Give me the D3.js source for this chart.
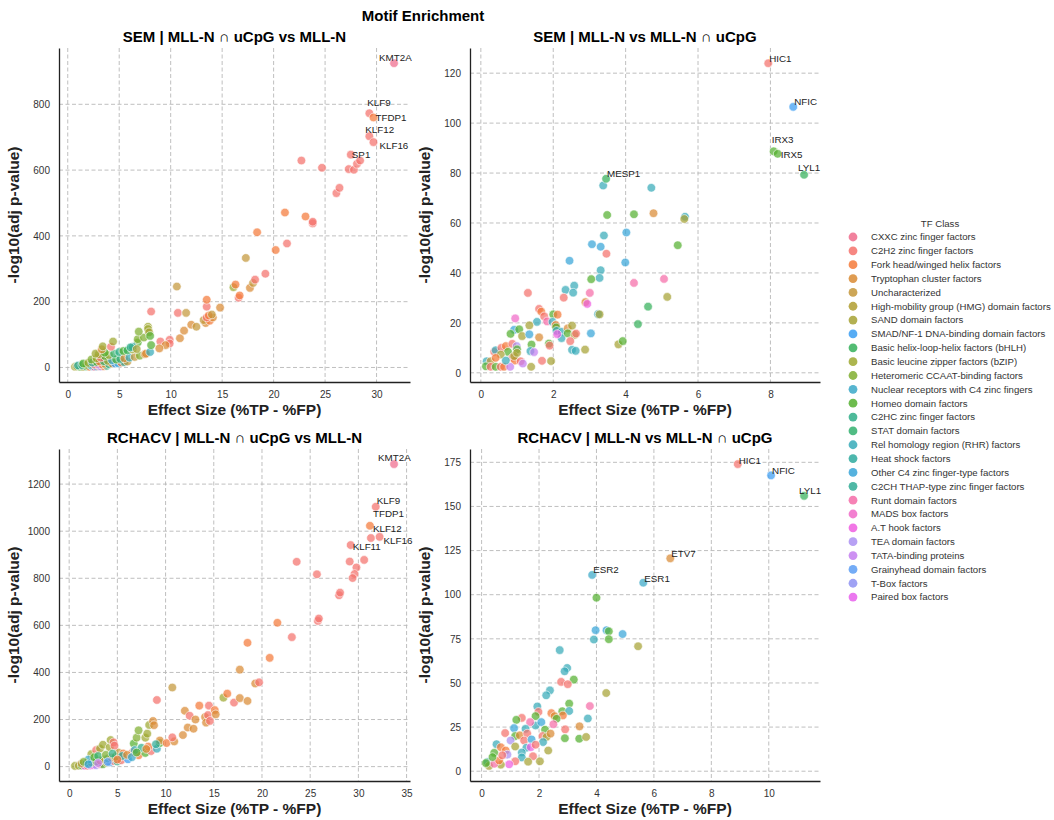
<!DOCTYPE html>
<html>
<head>
<meta charset="utf-8">
<script src="https://cdn.jsdelivr.net/npm/d3@7"></script>
<style>
  body { margin: 0; background: #fff; }
  text { font-family: "Liberation Sans", Arial, sans-serif; }
</style>
</head>
<body>
<svg id="chart" width="1054" height="820"></svg>
<script>
// TF classes, in legend order, and their colours
const tfClasses = ["CXXC zinc finger factors", "C2H2 zinc finger factors", "Fork head/winged helix factors",
  "Tryptophan cluster factors", "Uncharacterized", "High-mobility group (HMG) domain factors", "SAND domain factors",
  "SMAD/NF-1 DNA-binding domain factors", "Basic helix-loop-helix factors (bHLH)", "Basic leucine zipper factors (bZIP)",
  "Heteromeric CCAAT-binding factors", "Nuclear receptors with C4 zinc fingers", "Homeo domain factors",
  "C2HC zinc finger factors", "STAT domain factors", "Rel homology region (RHR) factors", "Heat shock factors",
  "Other C4 zinc finger-type factors", "C2CH THAP-type zinc finger factors", "Runt domain factors", "MADS box factors",
  "A.T hook factors", "TEA domain factors", "TATA-binding proteins", "Grainyhead domain factors", "T-Box factors",
  "Paired box factors"];
const classColors = ["#ef6b8c", "#f4726c", "#f47a3a", "#d98b34", "#c4973a", "#b09e30", "#a6a234", "#3a9df2",
  "#35b05a", "#9ea830", "#80ae30", "#39a8c8", "#55b030", "#2fae88", "#33b06e", "#37aab8", "#2eaa9f", "#38a5d8",
  "#30ab95", "#f56ca8", "#f06ac8", "#ee5ee0", "#aa90f2", "#c47ef0", "#5c9ef5", "#8e92f2", "#e860ec"];

// [effect size, -log10 adj p, class index]
const semUcpgPts = [
  [0.7,2,6],[0.9,3,9],[1.2,2,12],[1.5,2,6],[1.8,3,8],[2.1,2,2],[2.4,3,7],[2.6,2,0],[2.8,3,17],[3.0,4,1],[3.2,3,22],[3.5,4,2],[3.8,5,13],
  [1.0,6,16],[1.4,7,13],[1.8,8,10],[2.2,8,15],[2.6,9,1],[3.0,9,23],[3.3,10,2],[3.6,11,4],[4.0,10,13],[4.3,12,3],[4.6,12,7],[4.9,13,17],[5.2,15,2],[5.5,16,18],[5.8,18,4],
  [1.5,12,12],[2.0,14,9],[2.4,15,18],[2.8,17,12],[3.1,18,2],[3.5,19,14],[3.9,20,6],[4.3,22,11],[4.7,24,12],[5.1,26,13],[5.5,28,3],[6.0,30,15],[6.5,32,4],[7.0,36,10],[7.5,40,3],
  [2.3,24,10],[2.8,28,9],[3.2,30,1],[3.6,35,12],[4.0,38,9],[4.5,42,14],[5.0,47,13],[5.4,50,12],[5.8,52,8],[6.3,55,9],[3.0,40,6],
  [2.7,42,9],[3.6,45,12],[3.3,55,3],[3.4,64,9],[4.2,63,1],[4.4,79,9],[6.8,76,12],[6.3,63,15],[6.1,61,13],[6.7,56,6],[7.6,42,3],[8.0,47,15],[8.1,68,12],
  [6.8,86,10],[7.4,91,10],[6.9,109,10],[7.8,124,9],[7.8,117,9],[7.9,107,6],[8.0,96,12],
  [8.1,170,1],[10.6,246,4],[10.7,166,1],[11.5,166,4],[9.9,84,1],[9.9,73,1],[9.0,79,1],[9.5,68,3],[8.9,58,3],[10.9,89,3],[11.3,112,3],
  [12.0,130,3],[12.5,124,4],[13.4,135,3],[13.2,144,4],[13.8,142,2],[13.5,152,1],[14.1,152,3],[13.7,158,2],[14.0,161,4],[13.5,185,1],
  [13.5,206,2],[14.8,182,3],[16.6,212,1],[16.7,219,2],[16.1,244,9],[16.3,252,2],[17.7,242,3],[18.0,257,4],[18.2,267,1],[19.2,285,1],
  [17.3,333,4],[20.2,357,2],[21.3,377,1],[18.4,411,2],[23.8,438,1],[23.8,443,1],[23.1,459,2],[21.1,471,2],[26.1,530,1],[26.4,546,1],
  [22.7,629,1],[24.7,607,1],[27.3,603,1],[27.8,601,1],[28.1,619,1],[28.4,629,1]
];
const semUcpgLabels = [["KMT2A",31.7,925,0],["KLF9",29.3,773,1],["TFDP1",29.7,760,2],["KLF12",29.3,703,1],["KLF16",29.7,685,1],["SP1",27.5,647,1]];

const semMllPts = [
  [3.38,75,15],[4.71,74.1,15],[3.49,63.2,12],[4.23,63.5,12],[4.77,63.9,3],[5.64,62.5,15],[5.62,61.6,6],[4.02,56.2,17],[3.40,55,15],
  [5.44,51.1,12],[3.07,51.5,17],[3.31,50.5,17],[3.47,47.7,1],[2.45,44.9,17],[3.99,44.2,17],[3.31,41.1,15],[3.28,38.0,15],[3.05,37.5,12],
  [4.23,36.0,19],[5.06,37.6,19],[5.15,30.4,6],[2.34,33.2,15],[2.58,34.9,15],[2.55,32.1,15],[3.01,32.0,19],[2.29,30.1,1],[1.30,32.0,1],
  [2.89,28.3,3],[2.94,27.6,21],[4.62,26.5,8],[4.34,19.5,8],[3.24,23.5,15],[3.28,23.4,6],[1.61,25.6,1],[1.67,24.5,2],[1.75,22.6,1],
  [1.83,20.6,19],[1.55,20.4,15],[2.0,23.4,12],[2.12,23.3,2],[1.98,20.4,15],[2.06,19.1,1],[0.95,21.8,20],[1.34,19.0,6],[0.92,17.2,17],
  [1.06,17.4,12],[0.82,15.6,12],[1.14,14.7,6],[1.34,15.4,17],[1.61,14.2,3],[1.40,11.3,12],[1.88,11.7,12],[1.90,10.9,1],[2.07,19.1,3],
  [2.08,18.2,12],[2.09,16.8,15],[2.23,16.4,15],[2.23,13.9,15],[2.11,15.5,21],[2.40,17.8,3],[2.52,18.9,6],[2.40,15.8,12],[2.59,15.2,6],
  [2.63,15.7,1],[2.47,12.7,1],[2.52,9.2,15],[2.62,8.8,15],[2.88,9.3,6],[3.04,15.8,17],[3.80,11.4,6],[3.92,12.7,12],[1.37,8.7,15],
  [1.47,8.3,23],[1.69,4.8,1],[1.94,4.7,6],[1.39,2.4,6],
  [0.37,8.4,1],[0.41,9.0,15],[0.57,10.0,1],[0.69,10.7,2],[0.87,11.6,1],[0.99,10.7,22],[1.0,9.4,12],[0.75,8.4,12],[0.55,7.3,6],
  [0.87,6.0,1],[0.94,4.9,2],[1.10,4.6,1],[1.16,3.7,23],[0.16,4.6,15],[0.27,4.6,4],[0.14,2.6,12],[0.27,2.4,1],[0.41,2.4,12],
  [0.55,2.4,1],[0.64,2.4,2],[0.81,2.4,23],[0.69,4.9,15],[0.41,6.0,2],[0.92,6.7,6],[1.0,8.0,6]
];
const semMllLabels = [["HIC1",7.94,124,1],["NFIC",8.63,106.5,7],["IRX3",8.09,88.7,12],["IRX5",8.2,87.7,12],["LYL1",8.93,79.3,8],["MESP1",3.46,77.7,8]];

const rchUcpgPts = [
  [0.6,3,9],[1.0,4,6],[1.3,5,12],[1.6,4,21],[1.9,4,1],[2.2,5,26],[2.5,7,21],[2.8,6,22],[3.2,10,19],[3.5,10,12],[3.9,17,6],[4.2,18,7],
  [4.6,24,1],[5.0,22,13],[5.4,27,1],[6.1,31,7],
  [1.3,13,4],[1.8,15,13],[2.3,18,10],[2.8,22,12],[3.2,26,2],[3.6,30,9],[4.0,34,13],[4.4,38,3],[4.8,42,12],[5.1,60,4],[5.6,56,2],
  [6.6,62,1],[7.2,48,2],[7.9,58,12],[8.5,66,1],[9.1,76,15],[9.4,100,12],[9.4,111,3],[10.1,100,2],[10.9,107,3],[10.7,124,1],
  [2.3,53,9],[2.8,70,1],[3.2,77,9],[3.5,93,9],[4.2,82,9],[4.3,113,9],[4.6,103,1],[4.7,89,1],[6.7,98,12],[7.0,123,10],[7.2,154,10],
  [7.9,123,9],[8.1,140,9],[8.3,177,9],[8.7,194,3],[8.8,176,3],
  [2.0,30,11],[2.6,40,12],[3.0,45,14],[3.8,50,10],[4.5,55,13],[5.5,45,16],[6.0,50,3],[6.8,70,15],[7.5,80,13],[8.2,85,2],[9.0,95,18],
  [1.5,20,10],[2.0,10,17],[3.0,15,23],[4.0,20,24],[5.0,30,2],[6.5,40,11],[7.0,60,12],[8.0,75,3],
  [9.1,283,1],[10.7,336,4],[11.8,134,3],[12.0,237,3],[12.3,166,3],[12.5,216,1],[12.9,161,3],[13.1,200,3],[13.5,259,2],[14.1,211,3],
  [14.2,187,3],[14.4,219,1],[14.5,259,1],[14.6,194,1],[15.1,240,2],[15.2,222,3],[16.0,293,9],[16.4,310,2],[17.1,272,1],[17.7,291,3],
  [17.7,412,3],[18.5,279,3],[18.5,526,2],[19.3,353,3],[19.7,358,1],[20.8,462,2],[21.6,611,2],[23.1,550,1],[23.6,870,1],[25.7,817,1],
  [25.8,619,1],[25.9,629,1],[28.0,728,1],[28.1,739,1],[29.1,871,1],[30.6,878,1],[29.8,846,1],[29.6,818,1],[29.4,801,1]
];
const rchUcpgLabels = [["KMT2A",33.7,1285,0],["KLF9",31.8,1104,1],["TFDP1",31.2,1023,2],["KLF12",31.3,971,1],["KLF16",32.2,976,1],["KLF11",29.2,941,1]];

const rchMllPts = [
  [4.0,98.3,12],[3.97,79.9,17],[4.35,79.9,17],[4.43,79.3,12],[4.91,77.7,17],[3.91,74.6,15],[4.43,74.8,12],[5.45,70.8,6],[2.72,68.6,15],
  [2.98,58.5,15],[2.89,56.6,15],[3.21,51.9,12],[2.77,50.6,1],[3.0,49.3,1],[4.34,44.3,6],[2.38,45.8,15],[2.25,43.0,15],[3.05,38.3,12],
  [3.77,36.9,19],[1.94,36.7,15],[1.98,33.6,1],[2.81,34.0,12],[3.05,34.1,15],[2.83,31.6,2],[2.43,32.9,2],[2.54,31.2,3],[2.61,29.7,12],
  [2.50,26.6,19],[1.88,31.2,12],[1.88,25.9,15],[2.08,27.8,17],[1.69,27.8,19],[1.40,30.2,1],[1.21,29.1,12],[1.13,24.4,17],[1.53,24.0,15],
  [2.21,23.5,12],[2.91,23.7,1],[3.41,25.4,3],[3.70,29.9,15],[0.82,21.6,1],[1.17,19.9,12],[1.33,20.3,3],[1.59,21.3,1],[2.12,19.9,1],
  [2.26,19.4,6],[2.40,21.3,3],[1.48,17.4,1],[1.74,18.0,17],[2.90,18.7,12],[3.40,18.4,12],[3.64,19.4,6],[2.14,16.5,15],[1.01,17.4,22],
  [0.52,15.3,15],[1.17,14.0,6],[1.56,13.3,15],[1.71,13.6,21],[1.88,15.0,1],[2.32,11.7,6],[0.67,13.6,2],[0.84,11.7,2],[0.44,10.4,12],
  [0.90,9.4,22],[1.40,10.6,15],[1.40,7.8,15],[1.79,8.5,1],[1.62,5.4,6],[2.03,5.6,6],[1.17,5.6,1],[0.96,3.9,21],[0.67,3.7,6],
  [0.20,5.2,15],[0.26,3.0,6],[0.44,4.2,19],[0.61,6.1,2],[0.38,8.0,12],[0.72,9.0,1],[0.15,4.6,12]
];
const rchMllLabels = [["HIC1",8.92,174,1],["NFIC",10.08,167.6,7],["LYL1",11.23,156,8],["ETV7",6.57,120.6,3],["ESR2",3.85,111.2,11],["ESR1",5.63,106.8,11]];

// tick labels
const semUcpgXTicks = [0, 5, 10, 15, 20, 25, 30];
const semUcpgYTicks = [0, 200, 400, 600, 800];
const semMllXTicks = [0, 2, 4, 6, 8];
const semMllYTicks = [0, 20, 40, 60, 80, 100, 120];
const rchUcpgXTicks = [0, 5, 10, 15, 20, 25, 30, 35];
const rchUcpgYTicks = [0, 200, 400, 600, 800, 1000, 1200];
const rchMllXTicks = [0, 2, 4, 6, 8, 10];
const rchMllYTicks = [0, 25, 50, 75, 100, 125, 150, 175];

// label nudges in px (like adjustText output)
const nudges = {
  "SEM | MLL-N ∩ uCpG vs MLL-N": { KMT2A: [-15,-6], KLF9: [-2,-11], TFDP1: [2,0], KLF12: [-4,-7], KLF16: [6,3], SP1: [1,0] },
  "SEM | MLL-N vs MLL-N ∩ uCpG": { HIC1: [1,-5], NFIC: [1,-5], IRX3: [-2,-12], IRX5: [3,1], LYL1: [-6,-7], MESP1: [1,-5] },
  "RCHACV | MLL-N ∩ uCpG vs MLL-N": { KMT2A: [-16,-7], KLF9: [1,-6], TFDP1: [3,-12], KLF12: [2,-9], KLF16: [4,4], KLF11: [2,1] },
  "RCHACV | MLL-N vs MLL-N ∩ uCpG": { HIC1: [1,-4], NFIC: [1,-5], LYL1: [-5,-5], ETV7: [1,-5], ESR2: [1,-5], ESR1: [1,-4] }
};

const svg = d3.select("#chart");

svg.append("text")
  .attr("x", 423).attr("y", 21)
  .attr("text-anchor", "middle")
  .style("font-size", "15px").style("font-weight", "bold")
  .text("Motif Enrichment");

const panels = [
  { title: "SEM | MLL-N ∩ uCpG vs MLL-N", pts: semUcpgPts, labels: semUcpgLabels, xt: semUcpgXTicks, yt: semUcpgYTicks, box: [59, 410, 48, 382] },
  { title: "SEM | MLL-N vs MLL-N ∩ uCpG", pts: semMllPts, labels: semMllLabels, xt: semMllXTicks, yt: semMllYTicks, box: [470, 820, 48, 382] },
  { title: "RCHACV | MLL-N ∩ uCpG vs MLL-N", pts: rchUcpgPts, labels: rchUcpgLabels, xt: rchUcpgXTicks, yt: rchUcpgYTicks, box: [59, 410, 449, 781] },
  { title: "RCHACV | MLL-N vs MLL-N ∩ uCpG", pts: rchMllPts, labels: rchMllLabels, xt: rchMllXTicks, yt: rchMllYTicks, box: [470, 820, 449, 781] }
];

// matplotlib-like 5% margins
function padded(vals) {
  const ext = d3.extent(vals);
  const m = (ext[1] - ext[0]) * 0.05;
  return [ext[0] - m, ext[1] + m];
}

panels.forEach(p => {
  const [x0, x1, y0, y1] = p.box;
  const all = p.pts.concat(p.labels.map(l => [l[1], l[2], l[3]]));
  const x = d3.scaleLinear().domain(padded(all.map(d => d[0]))).range([x0, x1]);
  const y = d3.scaleLinear().domain(padded(all.map(d => d[1]))).range([y1, y0]);
  const g = svg.append("g");

  // grid
  g.selectAll(".gx").data(p.xt).enter().append("line")
    .attr("x1", d => x(d)).attr("x2", d => x(d))
    .attr("y1", y0).attr("y2", y1)
    .attr("stroke", "#b8b8b8").attr("stroke-width", 0.9).attr("stroke-dasharray", "4,2.5");
  g.selectAll(".gy").data(p.yt).enter().append("line")
    .attr("x1", x0).attr("x2", x1)
    .attr("y1", d => y(d)).attr("y2", d => y(d))
    .attr("stroke", "#b8b8b8").attr("stroke-width", 0.9).attr("stroke-dasharray", "4,2.5");

  // axes
  const xa = g.append("g").attr("transform", `translate(0,${y1})`)
    .call(d3.axisBottom(x).tickValues(p.xt).tickFormat(d3.format("d")).tickSize(0).tickSizeOuter(0).tickPadding(9));
  const ya = g.append("g").attr("transform", `translate(${x0},0)`)
    .call(d3.axisLeft(y).tickValues(p.yt).tickFormat(d3.format("d")).tickSize(0).tickSizeOuter(0).tickPadding(9));
  [xa, ya].forEach(a => {
    a.select(".domain").attr("stroke", "#222").attr("stroke-width", 1.3);
    a.selectAll("text").style("font-size", "10px").attr("fill", "#333")
      .style("font-family", '"Liberation Sans", Arial, sans-serif');
  });

  // points
  g.selectAll(".pt").data(all).enter().append("circle")
    .attr("cx", d => x(d[0])).attr("cy", d => y(d[1]))
    .attr("r", 4.3)
    .attr("fill", d => classColors[d[2]])
    .attr("fill-opacity", 0.72)
    .attr("stroke", "#fff").attr("stroke-width", 0.6);

  // gene labels
  const nd = nudges[p.title];
  g.selectAll(".lab").data(p.labels).enter().append("text")
    .attr("x", d => x(d[1]) + nd[d[0]][0])
    .attr("y", d => y(d[2]) + nd[d[0]][1])
    .attr("dy", "0.35em")
    .style("font-size", "9.8px").attr("fill", "#222")
    .text(d => d[0]);

  // titles
  const cx = (x0 + x1) / 2;
  g.append("text").attr("x", cx).attr("y", y0 - 6)
    .attr("text-anchor", "middle")
    .style("font-size", "15px").style("font-weight", "bold")
    .text(p.title);
  g.append("text").attr("x", cx).attr("y", y1 + 33)
    .attr("text-anchor", "middle")
    .style("font-size", "15.5px").style("font-weight", "bold").attr("fill", "#222")
    .text("Effect Size (%TP - %FP)");
  g.append("text")
    .attr("transform", `translate(${x0 - 40},${(y0 + y1) / 2}) rotate(-90)`)
    .attr("text-anchor", "middle")
    .style("font-size", "15.5px").style("font-weight", "bold").attr("fill", "#222")
    .text("-log10(adj p-value)");
});

// legend
const leg = svg.append("g");
leg.append("text").attr("x", 940).attr("y", 227)
  .attr("text-anchor", "middle")
  .style("font-size", "9.6px").attr("fill", "#333")
  .text("TF Class");
const items = leg.selectAll(".li").data(tfClasses).enter().append("g")
  .attr("transform", (d, i) => `translate(0,${237 + i * 13.85})`);
items.append("circle").attr("cx", 853).attr("cy", 0).attr("r", 4.4)
  .attr("fill", (d, i) => classColors[i]).attr("fill-opacity", 0.85);
items.append("text").attr("x", 871).attr("y", 0).attr("dy", "0.35em")
  .style("font-size", "9.6px").attr("fill", "#333")
  .text(d => d);
</script>
</body>
</html>
